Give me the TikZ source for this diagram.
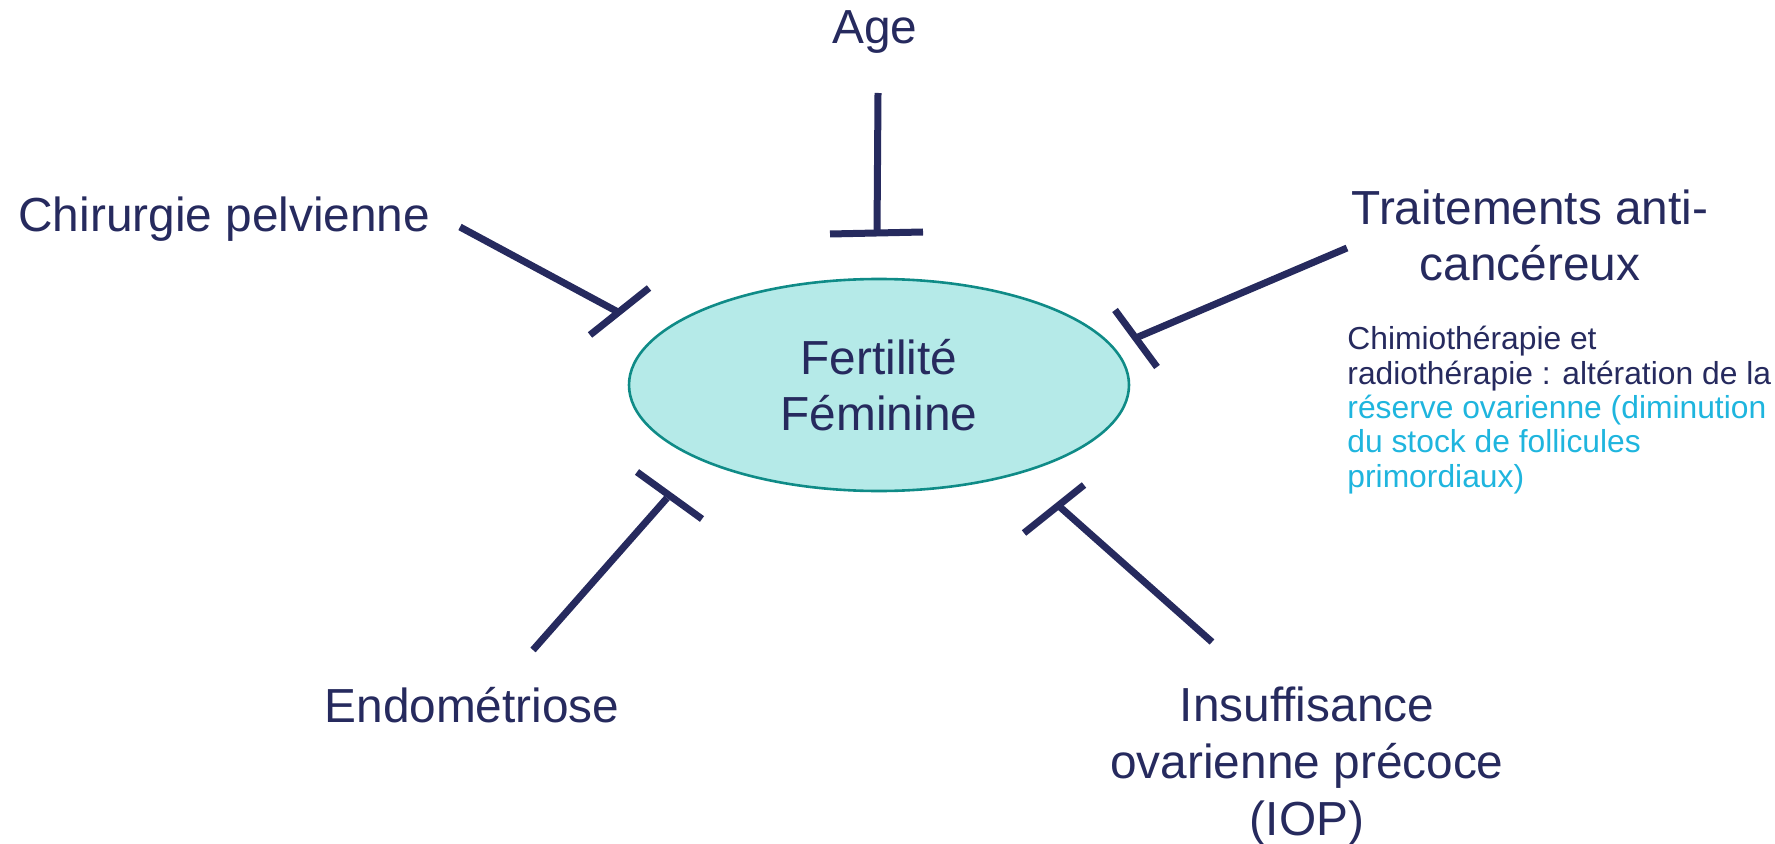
\documentclass[tikz,border=0pt]{standalone}
\usepackage{fontspec}
\setmainfont{Liberation Sans}
\usetikzlibrary{shapes.geometric}
\definecolor{navy}{HTML}{262A5E}
\definecolor{cyantxt}{HTML}{1FB5DE}
\definecolor{ovfill}{HTML}{B5EAE8}
\definecolor{ovdraw}{HTML}{0F8B87}

\begin{document}
\begin{tikzpicture}[x=0.5pt, y=-0.5pt,
  every node/.style={text=navy, inner sep=0pt},
  biglabel/.style={font=\fontsize{23.9}{28.3}\selectfont, align=center},
  smalllabel/.style={font=\fontsize{15.9}{17.15}\selectfont, align=left},
  inhib/.style={navy, line width=3.5pt}]

% canvas in pixels of the slide, y downwards
\useasboundingbox (0,0) rectangle (1775,844);

% --- Centre: the ellipse ---
\node[ellipse, draw=ovdraw, fill=ovfill, line width=1.3pt,
  minimum width=250pt, minimum height=106pt, biglabel] (fert) at (879,385)
  {Fertilité\\Féminine};

% --- Factors (base = baseline of the last line) ---
\node[biglabel, anchor=base] (age) at (875,44) {Age};
\node[biglabel, anchor=base west] (chir) at (18,232) {Chirurgie pelvienne};
\node[biglabel, anchor=base] (trait) at (1530,281) {Traitements anti-\\cancéreux};
\node[smalllabel, anchor=base west] (chimio) at (1347,487)
  {Chimiothérapie et\\
   radiothérapie : altération de la\\
   \textcolor{cyantxt}{réserve ovarienne (diminution}\\
   \textcolor{cyantxt}{du stock de follicules}\\
   \textcolor{cyantxt}{primordiaux)}};
\node[biglabel, anchor=base] (endo) at (472,722) {Endométriose};
\node[biglabel, anchor=base] (iop) at (1307,835)
  {Insuffisance\\ovarienne précoce\\(IOP)};

% --- Inhibition lines: start, end, and the two ends of the bar ---
\coordinate (age-s) at (878,93);     \coordinate (age-e) at (877,233);
\coordinate (age-b1) at (830,234);   \coordinate (age-b2) at (923,232);
\coordinate (chir-s) at (460,227);   \coordinate (chir-e) at (618,312);
\coordinate (chir-b1) at (590,335);  \coordinate (chir-b2) at (649,288);
\coordinate (trait-s) at (1347,248); \coordinate (trait-e) at (1138,337);
\coordinate (trait-b1) at (1115,310); \coordinate (trait-b2) at (1157,367);
\coordinate (endo-s) at (533,650);   \coordinate (endo-e) at (667,498);
\coordinate (endo-b1) at (637,472);  \coordinate (endo-b2) at (702,519);
\coordinate (iop-s) at (1212,642);   \coordinate (iop-e) at (1060,507);
\coordinate (iop-b1) at (1024,533);  \coordinate (iop-b2) at (1084,485);

\foreach \n in {age,chir,trait,endo,iop} {
  \draw[inhib] (\n-s) -- (\n-e);
  \draw[inhib] (\n-b1) -- (\n-b2);
}

\end{tikzpicture}
\end{document}
